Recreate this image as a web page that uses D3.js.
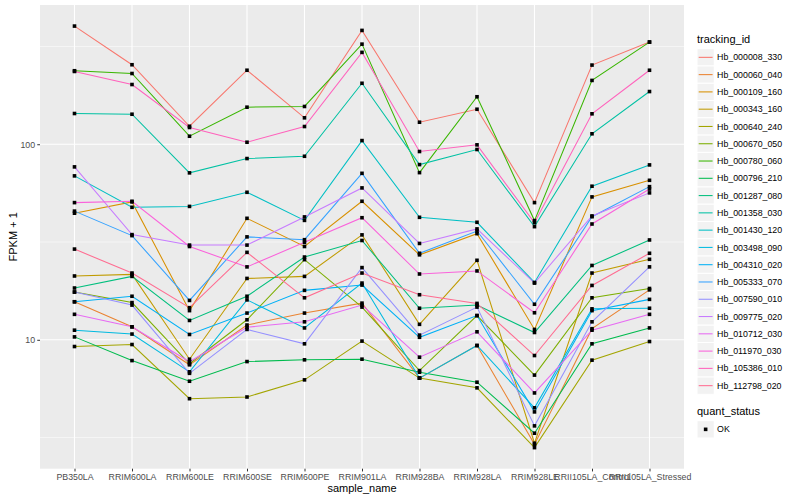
<!DOCTYPE html>
<html>
<head>
<meta charset="utf-8">
<script src="https://cdn.jsdelivr.net/npm/d3@7/dist/d3.min.js"></script>
<style>
  body { margin: 0; background: #fff; }
  text { font-family: "Liberation Sans", Arial, sans-serif; }
</style>
</head>
<body>
<svg id="chart" width="800" height="500"></svg>
<script>
// categories
const samples = ["PB350LA", "RRIM600LA", "RRIM600LE", "RRIM600SE", "RRIM600PE", "RRIM901LA",
  "RRIM928BA", "RRIM928LA", "RRIM928LE", "RRII105LA_Control", "RRII105LA_Stressed"];

const trackingIds = ["Hb_000008_330", "Hb_000060_040", "Hb_000109_160", "Hb_000343_160", "Hb_000640_240",
  "Hb_000670_050", "Hb_000780_060", "Hb_000796_210", "Hb_001287_080", "Hb_001358_030",
  "Hb_001430_120", "Hb_003498_090", "Hb_004310_020", "Hb_005333_070", "Hb_007590_010",
  "Hb_009775_020", "Hb_010712_030", "Hb_011970_030", "Hb_105386_010", "Hb_112798_020"];

// FPKM + 1, one value per sample
const hb_000008_330 = [402, 255, 123.6, 239, 136.5, 382, 129.6, 151, 50.3, 254, 333];
const hb_000060_040 = [15.65, 11.65, 7.45, 11.9, 13.7, 15.4, 6.37, 9.35, 2.92, 11.4, 18.0];
const hb_000109_160 = [44.4, 50.7, 14.1, 41.8, 30.0, 51.1, 27.2, 34.9, 11.3, 53.8, 65.4];
const hb_000343_160 = [21.2, 21.6, 7.96, 20.6, 21.1, 34.4, 12.0, 25.5, 2.96, 21.95, 25.8];
const hb_000640_240 = [9.24, 9.46, 5.0, 5.1, 6.24, 9.85, 6.37, 5.68, 2.81, 7.87, 9.8];
const hb_000670_050 = [17.55, 15.5, 7.54, 12.66, 25.7, 14.7, 6.96, 13.3, 6.6, 16.4, 18.3];
const hb_000780_060 = [237.6, 230, 109.9, 154.7, 156, 325, 71.6, 174.9, 40.7, 212, 333];
const hb_000796_210 = [10.35, 7.83, 6.14, 7.74, 7.9, 7.96, 6.83, 6.07, 3.33, 9.54, 11.5];
const hb_001287_080 = [18.4, 21.1, 12.56, 16.7, 26.5, 32.2, 14.5, 15.05, 10.9, 24.0, 32.4];
const hb_001358_030 = [143.6, 142.4, 71.4, 84.5, 86.8, 205, 78.7, 94.0, 37.9, 113.1, 186];
const hb_001430_120 = [68.9, 47.6, 48.1, 56.8, 40.8, 104.4, 42.3, 39.9, 19.65, 61.0, 78.4];
const hb_003498_090 = [11.2, 10.7, 6.86, 16.0, 11.5, 19.5, 6.37, 9.35, 4.49, 14.4, 14.5];
const hb_004310_020 = [15.65, 16.7, 10.65, 13.7, 17.9, 19.05, 10.3, 13.3, 4.28, 14.1, 16.1];
const hb_005333_070 = [45.5, 34.1, 15.9, 33.6, 32.5, 71.0, 27.7, 36.0, 15.2, 42.6, 60.7];
const hb_007590_010 = [17.55, 15.05, 6.74, 11.3, 9.54, 23.4, 10.57, 14.7, 3.63, 12.36, 23.6];
const hb_009775_020 = [76.6, 34.5, 30.5, 30.5, 42.5, 59.8, 31.1, 36.9, 19.5, 43.0, 56.4];
const hb_010712_030 = [13.5, 11.65, 7.72, 11.6, 12.36, 15.05, 8.15, 10.99, 5.35, 11.2, 13.5];
const hb_011970_030 = [50.3, 51.1, 30.0, 23.6, 31.5, 42.1, 21.7, 22.5, 13.75, 39.1, 59.0];
const hb_105386_010 = [235.6, 202, 121.8, 102.4, 123.2, 295, 91.8, 99.3, 39.7, 143.1, 239];
const hb_112798_020 = [29.1, 21.95, 14.6, 28.0, 16.4, 21.95, 17.0, 15.35, 8.31, 18.97, 27.7];

const yTicks = [10, 100];
const quantStatus = ["OK"];

const seriesValues = [hb_000008_330, hb_000060_040, hb_000109_160, hb_000343_160, hb_000640_240,
  hb_000670_050, hb_000780_060, hb_000796_210, hb_001287_080, hb_001358_030,
  hb_001430_120, hb_003498_090, hb_004310_020, hb_005333_070, hb_007590_010,
  hb_009775_020, hb_010712_030, hb_011970_030, hb_105386_010, hb_112798_020];

// ggplot default hue palette for 20 levels
const palette = ["#F8766D", "#EA8331", "#D89000", "#C09B00", "#A3A500", "#7CAE00", "#39B600", "#00BB4E",
  "#00BF7D", "#00C1A3", "#00BFC4", "#00BAE0", "#00B0F6", "#35A2FF", "#9590FF", "#C77CFF",
  "#E76BF3", "#FA62DB", "#FF62BC", "#FF6C91"];

const series = trackingIds.map((id, i) => ({
  id,
  color: palette[i],
  points: samples.map((s, j) => ({ sample: s, value: seriesValues[i][j] })),
}));

const margin = { top: 5, right: 116, bottom: 31.3, left: 40 };
const width = 800;
const height = 500;
const panelW = width - margin.left - margin.right;
const panelH = height - margin.top - margin.bottom;

const svg = d3.select("#chart");
const g = svg.append("g").attr("transform", `translate(${margin.left},${margin.top})`);

const x = d3.scalePoint().domain(samples).range([0, panelW]).padding(0.6);

// log scale with 5% expansion in log space, like ggplot
const allValues = seriesValues.flat();
const lmin = Math.log10(d3.min(allValues));
const lmax = Math.log10(d3.max(allValues));
const pad = (lmax - lmin) * 0.05;
const y = d3.scaleLog()
  .domain([Math.pow(10, lmin - pad), Math.pow(10, lmax + pad)])
  .range([panelH, 0]);

// panel background
g.append("rect").attr("width", panelW).attr("height", panelH).attr("fill", "#EBEBEB");

// minor grid at half decades
const minorTicks = [1, 10, 100, 1000].slice(0, -1).map((d) => d * Math.sqrt(10))
  .filter((d) => d > y.domain()[0] && d < y.domain()[1]);
g.selectAll(".minor").data(minorTicks).enter().append("line")
  .attr("x1", 0).attr("x2", panelW)
  .attr("y1", (d) => y(d)).attr("y2", (d) => y(d))
  .attr("stroke", "#fff").attr("stroke-width", 0.55);

g.selectAll(".ymajor").data(yTicks).enter().append("line")
  .attr("x1", 0).attr("x2", panelW)
  .attr("y1", (d) => y(d)).attr("y2", (d) => y(d))
  .attr("stroke", "#fff").attr("stroke-width", 1.1);

g.selectAll(".xmajor").data(samples).enter().append("line")
  .attr("x1", (d) => x(d)).attr("x2", (d) => x(d))
  .attr("y1", 0).attr("y2", panelH)
  .attr("stroke", "#fff").attr("stroke-width", 1.1);

// lines
const line = d3.line().x((d) => x(d.sample)).y((d) => y(d.value));
g.selectAll(".series").data(series).enter().append("path")
  .attr("d", (d) => line(d.points))
  .attr("fill", "none")
  .attr("stroke", (d) => d.color)
  .attr("stroke-width", 1.05);

// points
const ps = 3.6;
series.forEach((s) => {
  g.selectAll(null).data(s.points).enter().append("rect")
    .attr("x", (d) => x(d.sample) - ps / 2)
    .attr("y", (d) => y(d.value) - ps / 2)
    .attr("width", ps).attr("height", ps)
    .attr("fill", "#000");
});

// axes
const xAxis = d3.axisBottom(x).tickSize(2.75).tickPadding(2.4);
const yAxis = d3.axisLeft(y).tickValues(yTicks).tickFormat(d3.format("d")).tickSize(2.75).tickPadding(2.2);

const gx = g.append("g").attr("transform", `translate(0,${panelH})`).call(xAxis);
const gy = g.append("g").call(yAxis);
[gx, gy].forEach((ax) => {
  ax.select(".domain").remove();
  ax.selectAll(".tick line").attr("stroke", "#333").attr("stroke-width", 1);
  ax.selectAll(".tick text").attr("fill", "#4D4D4D").attr("font-size", 8.8)
    .attr("font-family", "Liberation Sans, Arial, sans-serif");
});

g.append("text")
  .attr("x", panelW / 2).attr("y", panelH + 23)
  .attr("text-anchor", "middle").attr("font-size", 11).text("sample_name");

g.append("text")
  .attr("transform", `translate(${-23.5},${panelH / 2}) rotate(-90)`)
  .attr("text-anchor", "middle").attr("font-size", 11).text("FPKM + 1");

// legend
const keySize = 17.28;
const lg = svg.append("g").attr("transform", "translate(697,0)");
lg.append("text").attr("x", 0).attr("y", 43).attr("font-size", 11).text("tracking_id");

const keys = lg.selectAll(".key").data(series).enter().append("g")
  .attr("transform", (d, i) => `translate(0,${48.7 + i * keySize})`);
keys.append("rect").attr("width", keySize).attr("height", keySize)
  .attr("fill", "#F2F2F2").attr("stroke", "#fff").attr("stroke-width", 1);
keys.append("line")
  .attr("x1", 1.7).attr("x2", keySize - 1.7)
  .attr("y1", keySize / 2).attr("y2", keySize / 2)
  .attr("stroke", (d) => d.color).attr("stroke-width", 1.05);
keys.append("text")
  .attr("x", keySize + 2.8).attr("y", keySize / 2 + 3.1)
  .attr("font-size", 8.8).attr("fill", "#000").text((d) => d.id);

lg.append("text").attr("x", 0).attr("y", 415).attr("font-size", 11).text("quant_status");
const qk = lg.selectAll(".qkey").data(quantStatus).enter().append("g")
  .attr("transform", (d, i) => `translate(0,${420.7 + i * keySize})`);
qk.append("rect").attr("width", keySize).attr("height", keySize)
  .attr("fill", "#F2F2F2").attr("stroke", "#fff").attr("stroke-width", 1);
qk.append("rect")
  .attr("x", keySize / 2 - ps / 2).attr("y", keySize / 2 - ps / 2)
  .attr("width", ps).attr("height", ps).attr("fill", "#000");
qk.append("text")
  .attr("x", keySize + 2.8).attr("y", keySize / 2 + 3.1)
  .attr("font-size", 8.8).text((d) => d);
</script>
</body>
</html>
